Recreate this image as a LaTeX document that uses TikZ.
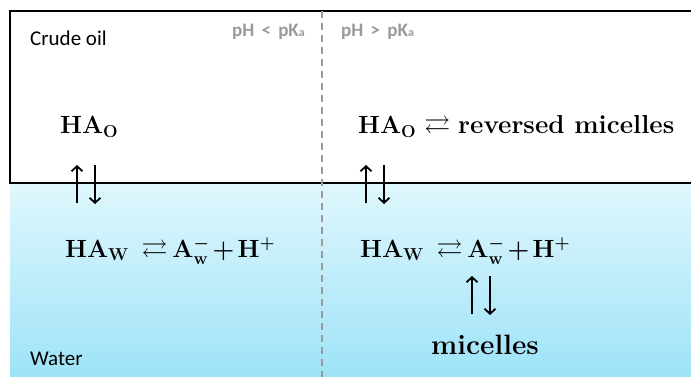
\documentclass[tikz,border=0pt]{standalone}
\usepackage{amsmath,amssymb}
\usepackage{fontspec}
\newfontfamily\calibri{Carlito}
\usetikzlibrary{arrows.meta}
\definecolor{watertop}{HTML}{E0F7FD}
\definecolor{waterbot}{HTML}{9EE3F8}
\definecolor{phgray}{HTML}{9A9A9A}
\newcommand{\chemfont}{\fontsize{26}{30}\selectfont\boldmath\thickmuskip=3mu\relax\medmuskip=2mu\relax}

\begin{document}
\begin{tikzpicture}[
  x=1pt, y=-1pt,
  chem/.style={inner sep=0pt, font=\chemfont},
  phase/.style={inner sep=0pt, font=\calibri\fontsize{21}{24}\selectfont},
  phlabel/.style={inner sep=0pt, text=phgray, font=\calibri\bfseries\fontsize{19}{22}\selectfont},
  eqarrow/.style={line width=1.8pt, -{Straight Barb[length=5pt,width=11pt,line width=1.8pt]}}
]
\useasboundingbox (0,0) rectangle (691,377);

% water and oil phases
\shade[top color=watertop, bottom color=waterbot] (10,183) rectangle (691,377);
\draw[line width=2pt] (693,11) -- (10,11) -- (10,183) -- (693,183);
\draw[phgray, line width=2pt, dash pattern=on 7pt off 5pt] (322,11) -- (322,377);

\node[phase, anchor=west] (oil) at (30,38) {Crude oil};
\node[phase, anchor=west] (water) at (30,359) {Water};
\node[phlabel, anchor=east] (low) at (305,32) {pH\hspace{3pt} < \hspace{3pt}pK{\fontsize{12}{12}\selectfont a}};
\node[phlabel, anchor=west] (high) at (341,32) {pH\hspace{3pt} > \hspace{3pt}pK{\fontsize{12}{12}\selectfont a}};

% left side: pH < pKa
\node[chem, anchor=west] (haoL) at (60,127) {$\mathbf{HA}_{\mathbf{O}}$};
\node[chem, anchor=west] (hawL) at (65,251) {$\mathbf{HA}_{\mathbf{W}}\ \rightleftarrows \mathbf{A}^{-}_{\mathbf{w}} + \mathbf{H}^{+}$};
\coordinate (upL1) at (77,203);
\coordinate (upL2) at (77,165);
\coordinate (dnL1) at (95,165);
\coordinate (dnL2) at (95,204);
\draw[eqarrow] (upL1) -- (upL2);
\draw[eqarrow] (dnL1) -- (dnL2);

% right side: pH > pKa
\node[chem, anchor=west] (haoR) at (358,127) {\thickmuskip=5mu$\mathbf{HA}_{\mathbf{O}} \rightleftarrows \textbf{reversed micelles}$};
\node[chem, anchor=west] (hawR) at (360,251) {$\mathbf{HA}_{\mathbf{W}}\ \rightleftarrows \mathbf{A}^{-}_{\mathbf{w}} + \mathbf{H}^{+}$};
\node[chem, font=\fontsize{28}{32}\selectfont] (mic) at (485,345) {\textbf{micelles}};
\coordinate (upR1) at (366,203);
\coordinate (upR2) at (366,165);
\coordinate (dnR1) at (384,165);
\coordinate (dnR2) at (384,204);
\draw[eqarrow] (upR1) -- (upR2);
\draw[eqarrow] (dnR1) -- (dnR2);
\coordinate (upM1) at (472,314);
\coordinate (upM2) at (472,276);
\coordinate (dnM1) at (490,276);
\coordinate (dnM2) at (490,315);
\draw[eqarrow] (upM1) -- (upM2);
\draw[eqarrow] (dnM1) -- (dnM2);
\end{tikzpicture}
\end{document}
